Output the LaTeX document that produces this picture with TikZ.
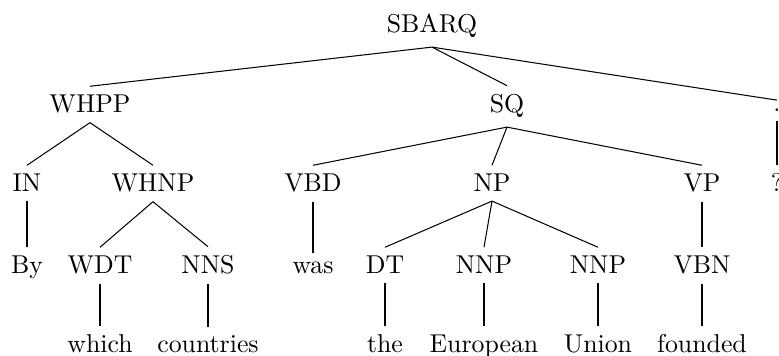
\documentclass[tikz,border=0pt]{standalone}
\begin{document}
\begin{tikzpicture}[x=0.3876pt,y=-0.3876pt,
  lbl/.style={anchor=base,inner sep=3.33pt},
  edge/.style={draw=black,line width=0.4pt}]
\useasboundingbox (0,0) rectangle (779,356);
% row 1
\node[lbl] (sbarq) at (432,33) {SBARQ};
% row 2
\node[lbl] (whpp) at (90,113) {WHPP};
\node[lbl] (sq) at (507,113) {SQ};
\node[lbl] (dot) at (777,112) {.};
% row 3
\node[lbl] (in) at (27,192) {IN};
\node[lbl] (whnp) at (153,192) {WHNP};
\node[lbl] (vbd) at (313,192) {VBD};
\node[lbl] (np) at (492,192) {NP};
\node[lbl] (vp) at (702,192) {VP};
\node[lbl] (q) at (777,192) {?};
% row 4
\node[lbl] (by) at (27,274) {By};
\node[lbl] (wdt) at (100,274) {WDT};
\node[lbl] (nns) at (208,274) {NNS};
\node[lbl] (was) at (313,274) {was};
\node[lbl] (dt) at (385,274) {DT};
\node[lbl] (nnpa) at (484,274) {NNP};
\node[lbl] (nnpb) at (598,274) {NNP};
\node[lbl] (vbn) at (702,274) {VBN};
% row 5
\node[lbl] (which) at (100,353) {which};
\node[lbl] (countries) at (208,353) {countries};
\node[lbl] (the) at (385,353) {the};
\node[lbl] (european) at (484,353) {European};
\node[lbl] (union) at (598,353) {Union};
\node[lbl] (founded) at (702,353) {founded};
% edges
\draw[edge] (sbarq.south) -- (whpp.north);
\draw[edge] (sbarq.south) -- (sq.north);
\draw[edge] (sbarq.south) -- (dot.north);
\draw[edge] (whpp.south) -- (in.north);
\draw[edge] (whpp.south) -- (whnp.north);
\draw[edge] (sq.south) -- (vbd.north);
\draw[edge] (sq.south) -- (np.north);
\draw[edge] (sq.south) -- (vp.north);
\draw[edge] (dot.south) -- (q.north);
\draw[edge] (in.south) -- (by.north);
\draw[edge] (whnp.south) -- (wdt.north);
\draw[edge] (whnp.south) -- (nns.north);
\draw[edge] (vbd.south) -- (was.north);
\draw[edge] (np.south) -- (dt.north);
\draw[edge] (np.south) -- (nnpa.north);
\draw[edge] (np.south) -- (nnpb.north);
\draw[edge] (vp.south) -- (vbn.north);
\draw[edge] (wdt.south) -- (which.north);
\draw[edge] (nns.south) -- (countries.north);
\draw[edge] (dt.south) -- (the.north);
\draw[edge] (nnpa.south) -- (european.north);
\draw[edge] (nnpb.south) -- (union.north);
\draw[edge] (vbn.south) -- (founded.north);
\end{tikzpicture}
\end{document}
